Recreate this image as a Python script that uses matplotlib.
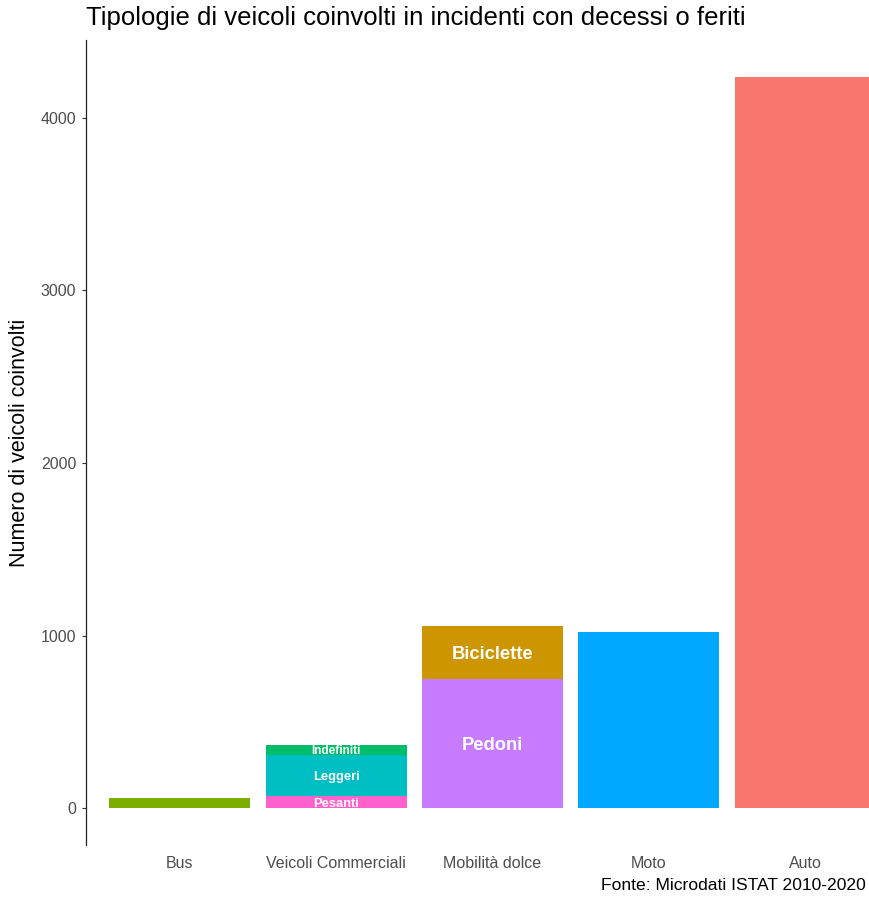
import matplotlib
matplotlib.use("Agg")
import matplotlib.pyplot as plt
import numpy as np

plt.rcParams["font.family"] = ["Liberation Sans", "DejaVu Sans"]

categories = ["Bus", "Veicoli Commerciali", "Mobilità dolce", "Moto", "Auto"]

# stacked segments: (category, sub label, value, colour, label size)
segments = [
    ("Bus", "", 62, "#7CAE00", 0),
    ("Veicoli Commerciali", "Pesanti", 70, "#FF61CC", 9.3),
    ("Veicoli Commerciali", "Leggeri", 237, "#00BFC4", 9.3),
    ("Veicoli Commerciali", "Indefiniti", 63, "#00BE67", 8.5),
    ("Mobilità dolce", "Pedoni", 752, "#C77CFF", 13.2),
    ("Mobilità dolce", "Biciclette", 302, "#CD9600", 13.2),
    ("Moto", "", 1019, "#00A9FF", 0),
    ("Auto", "", 4237, "#F8766D", 0),
]

fig = plt.figure(figsize=(8.7, 9.01), dpi=100)
W, H = 870, 901
left, right, top, bottom = 86, 899, 40, 845
ax = fig.add_axes([left / W, 1 - bottom / H, (right - left) / W, (bottom - top) / H])

x = np.arange(1, len(categories) + 1)
base = {c: 0 for c in categories}
for cat, lab, val, col, size in segments:
    xi = categories.index(cat) + 1
    ax.bar(xi, val, 0.9, bottom=base[cat], color=col, linewidth=0)
    if lab:
        ax.text(xi, base[cat] + val / 2, lab, ha="center", va="center_baseline",
                color="white", fontweight="bold", fontsize=size)
    base[cat] += val

ymax = max(base.values())
ax.set_xlim(0.4, len(categories) + 0.6)
ax.set_ylim(-0.05 * ymax, ymax * 1.05)
ax.set_xticks(x, categories)
ax.set_yticks([0, 1000, 2000, 3000, 4000])
ax.tick_params(axis="x", length=0, pad=8, labelsize=11.5, labelcolor="#4D4D4D")
ax.tick_params(axis="y", length=3, width=0.8, color="#333333", labelsize=11.5,
               labelcolor="#4D4D4D", pad=4)
for s in ["top", "right", "bottom"]:
    ax.spines[s].set_visible(False)
ax.spines["left"].set_linewidth(0.9)
ax.spines["left"].set_color("#222222")
ax.set_ylabel("Numero di veicoli coinvolti", fontsize=15.5, labelpad=8)

fig.text(left / W, 1 - 18 / H, "Tipologie di veicoli coinvolti in incidenti con decessi o feriti",
         fontsize=18.5, va="center", ha="left")
fig.text(866 / W, 1 - 886 / H, "Fonte: Microdati ISTAT 2010-2020", fontsize=12.6,
         va="center", ha="right")

fig.savefig("out.png", dpi=100)
